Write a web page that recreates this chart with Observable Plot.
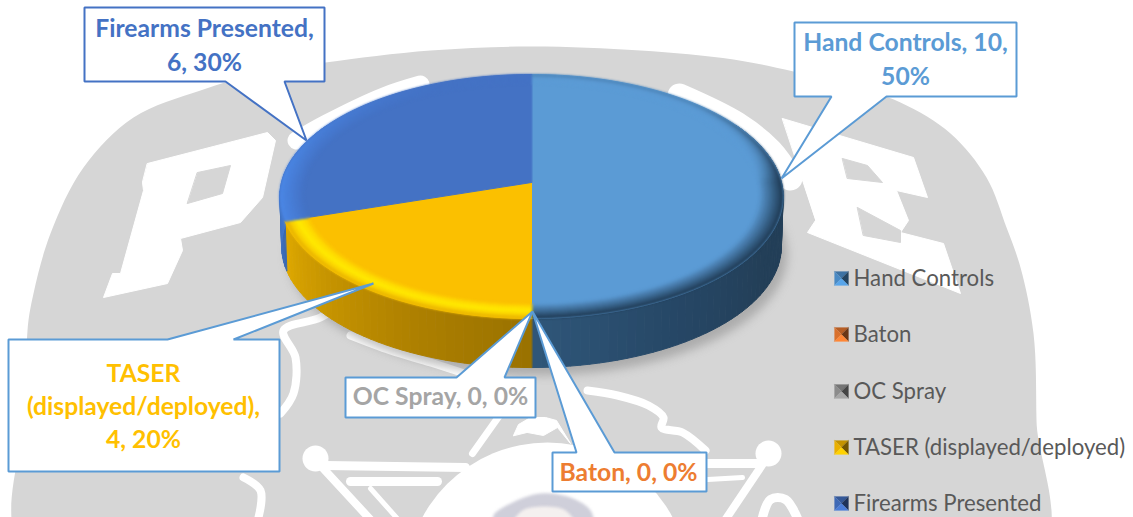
<!DOCTYPE html>
<html>
<head>
<meta charset="utf-8">
<script src="https://cdn.jsdelivr.net/npm/d3@7"></script>
<script src="https://cdn.jsdelivr.net/npm/@observablehq/plot@0.6"></script>
<style>html,body{margin:0;padding:0;background:#fff}svg{display:block}</style>
</head>
<body>
<div id="chart"></div>
<script>
// ---- data ----
const categories = ["Hand Controls", "Baton", "OC Spray", "TASER (displayed/deployed)", "Firearms Presented"];
const values = [10, 0, 0, 4, 6];
const percents = [50, 0, 0, 20, 30];
const sliceColors = ["#5b9bd5", "#ed7d31", "#a5a5a5", "#fbc000", "#4472c4"];
const labelColors = ["#5b9bd5", "#ed7d31", "#a5a5a5", "#ffc000", "#4472c4"];
const labelBreaks = [["Hand Controls, 10,", "50%"], ["Baton, 0, 0%"], ["OC Spray, 0, 0%"],
  ["TASER", "(displayed/deployed),", "4, 20%"], ["Firearms Presented,", "6, 30%"]];

// ---- layout of the page (not data) ----
const W = 1133, H = 517, FONT = "Lato, Carlito, 'Open Sans', sans-serif";
const pieGeom = {cx: 531, cy: 182, R: 250, H: 120.4, k: 0.1147, depth: 50, shrink: 0.993};
const callouts = [
  {box: [794, 22, 1016, 96], tail: [[886, 96], [781, 178], [831, 96]], side: "bottom", stroke: "#5b9bd5", text: [905, 43]},
  {box: [552, 452, 706, 491], tail: [[576, 452], [532, 311], [614, 452]], side: "top", stroke: "#5b9bd5", text: [628, 473]},
  {box: [345, 377, 535, 417], tail: [[456, 377], [532, 311], [504, 377]], side: "top", stroke: "#5b9bd5", text: [440, 397]},
  {box: [8, 339, 279, 471], tail: [[167, 339], [373, 283], [233, 339]], side: "top", stroke: "#5b9bd5", text: [143, 374]},
  {box: [84, 7, 324, 81], tail: [[284, 81], [306, 140], [225, 81]], side: "bottom", stroke: "#4472c4", text: [204, 29]}
];
const legendX = 834, legendTextX = 853, legendYs = [278, 334, 391, 447, 503], legendHalf = 7;

// watermark (decorative background)
const wmOuter = [[28,560],[27,400],[27,330],[33,293],[50,233],[83,167],[133,117],[200,90],[262,72],[325,62],[430,50],[530,46],[640,50],[733,59],[793,71],[845,84],[900,102],[950,133],[986,177],[1006,227],[1020,267],[1033,333],[1036,420],[1036,560]];
const wmP = [[147,163],[267,132],[275,140],[262,197],[240,222],[180,238],[182,250],[167,283],[103,297],[112,273],[120,273],[143,190],[142,182]];
const wmPHole = [[197,172],[230,165],[222,193],[187,203]];
const wmE = [[782,118],[913,157],[927,197],[896,190],[908,220],[900,232],[943,243],[960,293],[807,232],[815,220]];
const wmEHoles = [[[842,158],[867,165],[882,182],[847,178]], [[857,207],[900,230],[900,242],[863,235]]];
const wmCrown = [[513,435],[518,424],[530,417],[545,417],[556,420],[570,443],[557,427],[543,435],[527,432]];
const wmBands = [
  {w: 18, pts: [[296,140],[326,123],[383,96],[420,84]]},
  {w: 24, pts: [[679,95],[736,123],[770,150],[790,178]]},
  {w: 8, pts: [[587,390],[617,395],[648,405],[663,417],[661,427],[682,432],[705,450]]},
  {w: 8, pts: [[345,300],[320,317],[283,330],[295,357],[293,393],[280,413]]},
  {w: 8, pts: [[243,477],[260,490],[258,517]]},
  {w: 8, pts: [[350,335],[390,350],[430,362],[470,375]]},
  {w: 9, pts: [[325,465],[465,467]]},
  {w: 9, pts: [[350,481],[437,481]]},
  {w: 8, pts: [[320,465],[380,530]]},
  {w: 5, pts: [[370,488],[403,525]]},
  {w: 7, pts: [[472,453],[499,415]]},
  {w: 9, pts: [[690,463],[760,463]]},
  {w: 5, pts: [[690,480],[742,477]]},
  {w: 8, pts: [[766,458],[721,525]]},
  {w: 9, pts: [[760,525],[770,499],[785,499],[800,525]]}
];
const wmBalls = [[315,458],[768,453]];
const wmSeal = {x: 547, y: 584};
const wmHat = [[493,515],[510,503],[540,493],[570,497],[590,510],[592,525],[495,525]];
const wmHatInner = [[512,525],[522,510],[545,506],[565,510],[575,525]];

// ---- geometry from the values ----
const arcs = d3.pie().sort(null).value(d => d)(values);
const deg = Math.PI / 180;
function proj(theta, r = 1, drop = 0) {
  const {cx, cy, R, H: HH, k, depth, shrink} = pieGeom;
  const u = r * Math.sin(theta), v = r * Math.cos(theta), s = 1 / (1 + k * v);
  const f = drop ? shrink : 1;
  return [cx + R * u * s * f, cy - HH * v * s * f + drop * depth];
}
const clamp = t => Math.max(0, Math.min(1, t));
let nid = 0;
function poly(list, pts, fill) { const id = nid++; for (const [x, y] of pts) list.push({id, x, y, fill}); }

const sideRamp = {
  0: d3.piecewise(d3.interpolateRgb, ["#233f58", "#233f58", "#264766", "#2f5679"]),
  3: d3.piecewise(d3.interpolateRgb, ["#9a7200", "#ae8000", "#c69400", "#e0aa00"]),
  4: d3.piecewise(d3.interpolateRgb, ["#3a68b0", "#4378cc", "#4a80d8"])
};
const yellowBevel = d3.piecewise(d3.interpolateRgb, ["#fbc000", "#ffdc00", "#ffe800", "#fcd400", "#e6ae00"]);
function bevelColor(i, th, t) {
  if (i === 0) {
    const s = clamp((th / deg - 45) / 45);
    const a = Math.pow(t, 1 + (1 - s) * 5) * (0.3 + 0.7 * s);
    return d3.interpolateRgb(sliceColors[0], "#1f3a54")(a);
  }
  if (i === 3) return yellowBevel(t);
  const s = clamp((335 - th / deg) / 60);
  return d3.interpolateRgb(sliceColors[4], "#4a86e4")(t * s);
}

// side wall, shadow
const sideFaces = [], topFaces = [], bevelFaces = [], shadowFaces = [];
poly(shadowFaces, d3.range(60, 300, 4).map(a => { const [x, y] = proj(a * deg, 1.0, 1); return [x + 6, y + 8]; }), "#8a8a8a");
arcs.forEach((a, i) => {
  if (a.value === 0) return;
  const step = 2 * deg, span = a.endAngle - a.startAngle;
  const n = Math.ceil(span / step);
  for (let j = 0; j < n; j++) {
    const t0 = a.startAngle + span * j / n, t1 = a.startAngle + span * (j + 1) / n;
    const mid = (t0 + t1) / 2;
    if (mid / deg > 60 && mid / deg < 300) {
      const frac = i === 0 ? clamp((mid / deg - 90) / 90) : (i === 3 ? j / n : clamp((mid / deg - 252) / 40));
      poly(sideFaces, [proj(t0), proj(t1), proj(t1, 1, 1), proj(t0, 1, 1)], sideRamp[i](frac));
    }
  }
  const pts = [[pieGeom.cx, pieGeom.cy]];
  for (let j = 0; j <= n; j++) pts.push(proj(a.startAngle + span * j / n));
  poly(topFaces, pts, sliceColors[i]);
  const layers = 7, inner = 0.905;
  for (let l = 0; l < layers; l++) {
    const r0 = inner + (1 - inner) * l / layers, r1 = inner + (1 - inner) * (l + 1) / layers;
    for (let j = 0; j < n; j++) {
      const t0 = a.startAngle + span * j / n, t1 = a.startAngle + span * (j + 1) / n;
      poly(bevelFaces, [proj(t0, r0), proj(t1, r0), proj(t1, r1), proj(t0, r1)],
        bevelColor(i, (t0 + t1) / 2, (l + 0.5) / layers));
    }
  }
});

// callouts
const calloutRows = [];
callouts.forEach((c, i) => {
  const [x0, y0, x1, y1] = c.box;
  const pts = c.side === "top"
    ? [[x0, y0], ...c.tail, [x1, y0], [x1, y1], [x0, y1]]
    : [[x0, y0], [x1, y0], [x1, y1], ...c.tail, [x0, y1]];
  pts.forEach(([x, y]) => calloutRows.push({i, x, y, stroke: c.stroke}));
});
const labelRows = [];
callouts.forEach((c, i) => {
  labelBreaks[i].forEach((line, j) => labelRows.push({
    x: c.text[0], y: c.text[1] + j * (i === 3 ? 33 : 34), line, fill: labelColors[i]
  }));
});

// legend
const legendIcons = [], legendBase = ["#4a8ac4", "#d9702c", "#8c8c8c", "#eab000", "#3f69b5"];
categories.forEach((c, i) => {
  const y = legendYs[i], h = legendHalf, x = legendX + h, col = d3.color(legendBase[i]);
  const tl = [x - h, y - h], tr = [x + h, y - h], bl = [x - h, y + h], br = [x + h, y + h], m = [x, y];
  poly(legendIcons, [tl, tr, m], col.darker(0.5).formatHex());
  poly(legendIcons, [tl, bl, m], col.formatHex());
  poly(legendIcons, [tr, br, m], col.darker(2).formatHex());
  poly(legendIcons, [bl, br, m], col.brighter(0.5).formatHex());
});
const legendRows = categories.map((c, i) => ({x: legendTextX, y: legendYs[i], c}));

// watermark rows
const wmWhite = [], wmGray = [], wmLines = [];
poly(wmWhite, wmP, "#ffffff"); poly(wmWhite, wmE, "#ffffff"); poly(wmWhite, wmCrown, "#ffffff");
poly(wmGray, wmPHole, "#d6d6d6"); wmEHoles.forEach(h => poly(wmGray, h, "#d6d6d6"));
wmBands.forEach((b, i) => b.pts.forEach(([x, y]) => wmLines.push({i, x, y, w: b.w})));
const outerRows = wmOuter.map(([x, y]) => ({x, y}));
const hatRows = wmHat.map(([x, y]) => ({x, y}));
const hatInnerRows = wmHatInner.map(([x, y]) => ({x, y}));
const polyMark = (data, extra = {}) => Plot.line(data, {x: "x", y: "y", z: "id", fill: "fill", stroke: "fill", strokeWidth: 1, curve: "linear-closed", ...extra});

const chart = Plot.plot({
  width: W, height: H, margin: 0,
  x: {domain: [0, W], range: [0, W], axis: null},
  y: {domain: [0, H], range: [0, H], axis: null},
  color: {type: "identity"},
  style: {background: "#fff", fontFamily: FONT},
  marks: [
    // watermark
    Plot.line(outerRows, {x: "x", y: "y", fill: "#d6d6d6", stroke: "none", curve: "catmull-rom-closed", imageFilter: "blur(0.7px)"}),
    ...wmBands.map((b, i) => Plot.line(wmLines.filter(d => d.i === i), {x: "x", y: "y", stroke: "#fff", strokeWidth: b.w, curve: "catmull-rom", imageFilter: "blur(0.7px)"})),
    Plot.dot([wmSeal], {x: "x", y: "y", r: 142, fill: "#fff", stroke: "none", imageFilter: "blur(0.7px)"}),
    polyMark(wmWhite, {imageFilter: "blur(0.7px)"}),
    polyMark(wmGray, {imageFilter: "blur(0.7px)"}),
    Plot.dot(wmBalls.map(([x, y]) => ({x, y})), {x: "x", y: "y", r: 13, fill: "#fff", stroke: "none", imageFilter: "blur(0.7px)"}),
    Plot.line(hatRows, {x: "x", y: "y", fill: "#cfcfda", stroke: "none", curve: "catmull-rom-closed", imageFilter: "blur(1.5px)"}),
    Plot.line(hatInnerRows, {x: "x", y: "y", fill: "#f4f0ef", stroke: "none", curve: "catmull-rom-closed", imageFilter: "blur(1.5px)"}),
    // pie
    polyMark(shadowFaces, {fillOpacity: 0.55, strokeOpacity: 0, imageFilter: "blur(5px)"}),
    polyMark(sideFaces, {imageFilter: "blur(0.5px)"}),
    polyMark(topFaces),
    polyMark(bevelFaces, {imageFilter: "blur(0.8px)"}),
    // callouts
    Plot.line(calloutRows, {x: "x", y: "y", z: "i", stroke: "stroke", fill: "#fff", strokeWidth: 2, curve: "linear-closed", strokeLinejoin: "miter"}),
    Plot.text(labelRows, {x: "x", y: "y", text: "line", fill: "fill", fontSize: 24.7, fontWeight: 700, fontFamily: FONT}),
    // legend
    polyMark(legendIcons, {strokeWidth: 0.2}),
    Plot.text(legendRows, {x: "x", y: "y", text: "c", textAnchor: "start", fill: "#595959", fontSize: 22.2, fontFamily: FONT})
  ]
});
document.getElementById("chart").appendChild(chart);
</script>
</body>
</html>
